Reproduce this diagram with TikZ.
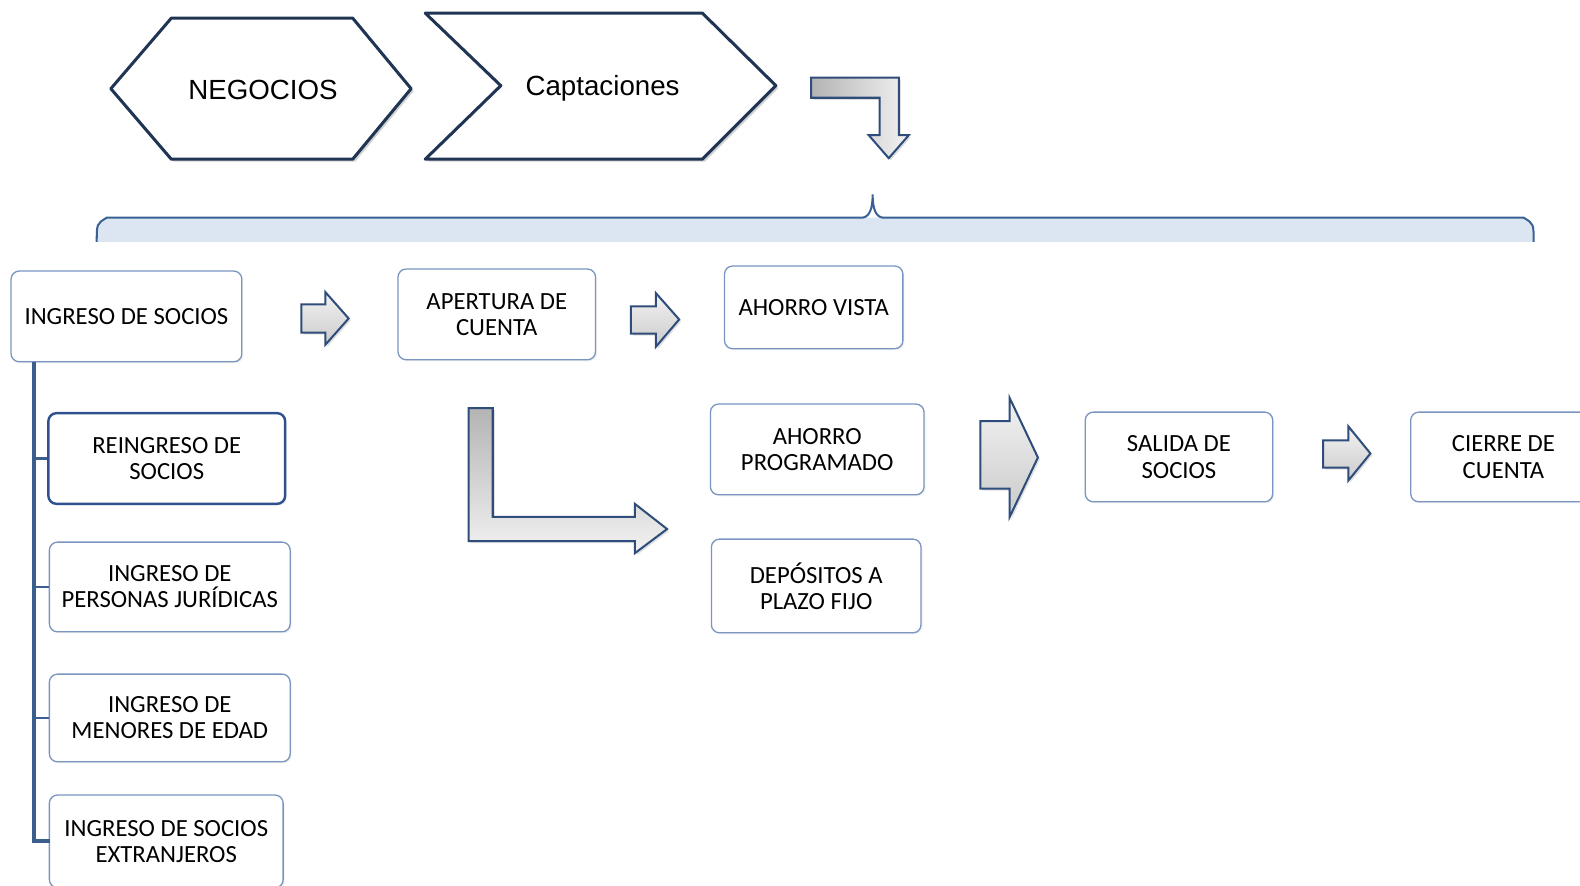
\documentclass[tikz,border=0pt]{standalone}
\usepackage{fontspec}
\setmainfont{Carlito}
\newfontfamily\arialfont{Liberation Sans}
\usetikzlibrary{shadows}

\definecolor{boxline}{HTML}{7A96C0}
\definecolor{boxdark}{HTML}{2F528F}
\definecolor{navy}{HTML}{1F3553}
\definecolor{arrowline}{HTML}{2E4D7B}
\definecolor{treeline}{HTML}{3A5F8E}
\definecolor{bracefill}{HTML}{DCE6F2}
\definecolor{braceline}{HTML}{3A6193}
\definecolor{shadeA}{HTML}{B4B4B4}
\definecolor{shadeB}{HTML}{F2F2F2}

\tikzset{
  boxnode/.style={draw=boxline, line width=1.3pt, rounded corners=8pt, fill=white,
    align=center, inner sep=0pt, text=black,
    font=\fontsize{24.5}{26}\selectfont,
    drop shadow={shadow xshift=1.5pt, shadow yshift=-1.5pt, opacity=0.12}},
  boxstrong/.style={boxnode, draw=boxdark, line width=2.4pt},
  hexshape/.style={draw=navy, line width=3pt, fill=white, line join=round,
    drop shadow={shadow xshift=2.5pt, shadow yshift=-2.5pt, opacity=0.35}},
  hextext/.style={font=\arialfont\fontsize{27.5}{30}\selectfont, inner sep=0pt},
  blockarrow/.style={draw=arrowline, line width=2pt, line join=miter,
    top color=shadeB, bottom color=shadeA!70,
    drop shadow={shadow xshift=2pt, shadow yshift=-2pt, opacity=0.25}},
  trunk/.style={draw=treeline, line width=4pt},
  branch/.style={draw=treeline, line width=2.5pt},
}

\begin{document}
\begin{tikzpicture}[x=1pt, y=-1pt]
\useasboundingbox (0,0) rectangle (1568,879);
\clip (0,0) rectangle (1568,879);

% process chevrons
\path[hexshape] (110,88) -- (170,18) -- (350,18) -- (408,88) -- (350,158) -- (170,158) -- cycle;
\node[hextext] (negocios) at (261,89) {NEGOCIOS};
\path[hexshape] (422,13) -- (697,13) -- (770,85) -- (697,158) -- (422,158) -- (497,85) -- cycle;
\node[hextext] (captaciones) at (598,88) {Captaciones};

% bent arrow down to the brace
\path[blockarrow, left color=shadeA, right color=shadeB]
  (805,77) -- (892,77) -- (892,134) -- (902,134) -- (882,157) -- (862,134)
  -- (873,134) -- (873,97) -- (805,97) -- cycle;

% brace
\fill[bracefill] (96,240) .. controls (96,222) .. (106,216) -- (1512,216)
  .. controls (1522,222) .. (1522,240) -- cycle;
\draw[braceline, line width=2pt] (96,240) .. controls (96,222) .. (106,216) -- (856,216)
  .. controls (863,215) and (866,207) .. (866,193)
  .. controls (866,207) and (869,215) .. (876,216) -- (1512,216)
  .. controls (1522,222) .. (1522,240);

% boxes
\node[boxnode, minimum width=229pt, minimum height=90pt] (ingreso) at (125.5,314) {INGRESO DE SOCIOS};
\node[boxnode, minimum width=196pt, minimum height=90pt] (apertura) at (493,312) {APERTURA DE\\CUENTA};
\node[boxnode, minimum width=177pt, minimum height=82pt] (vista) at (807.5,305) {AHORRO VISTA};
\node[boxstrong, minimum width=235pt, minimum height=90pt] (reingreso) at (165.5,455) {REINGRESO DE\\SOCIOS};
\node[boxnode, minimum width=239pt, minimum height=89pt] (juridicas) at (168.5,582.5) {INGRESO DE\\PERSONAS JURÍDICAS};
\node[boxnode, minimum width=239pt, minimum height=87pt] (menores) at (168.5,712.5) {INGRESO DE\\MENORES DE EDAD};
\node[boxnode, minimum width=232pt, minimum height=92pt] (extranjeros) at (165,835) {INGRESO DE SOCIOS\\EXTRANJEROS};
\node[boxnode, minimum width=212pt, minimum height=90pt] (programado) at (811,446) {AHORRO\\PROGRAMADO};
\node[boxnode, minimum width=208pt, minimum height=93pt] (plazo) at (810,581.5) {DEPÓSITOS A\\PLAZO FIJO};
\node[boxnode, minimum width=186pt, minimum height=89pt] (salida) at (1170,453.5) {SALIDA DE\\SOCIOS};
\node[boxnode, minimum width=184pt, minimum height=89pt] (cierre) at (1492,453.5) {CIERRE DE\\CUENTA};

% tree below INGRESO DE SOCIOS
\coordinate (root) at ([xshift=23pt]ingreso.south west);
\draw[trunk] (root) |- ([xshift=1pt]extranjeros.west);
\draw[branch] (root |- reingreso.west) -- (reingreso.west);
\draw[branch] (root |- juridicas.west) -- (juridicas.west);
\draw[branch] (root |- menores.west) -- (menores.west);

% block arrows
\path[blockarrow] (299,302) -- (323,302) -- (323,290) -- (346,316) -- (323,342) -- (323,330) -- (299,330) -- cycle;
\path[blockarrow] (626,304) -- (651,304) -- (651,291) -- (674,317) -- (651,344) -- (651,331) -- (626,331) -- cycle;
\path[blockarrow] (973,418) -- (1002,418) -- (1002,395) -- (1030,454) -- (1002,513) -- (1002,485) -- (973,485) -- cycle;
\path[blockarrow] (1313,437) -- (1338,437) -- (1338,423) -- (1360,450) -- (1338,477) -- (1338,464) -- (1313,464) -- cycle;

% L-shaped arrow
\path[blockarrow, top color=shadeA, bottom color=shadeB]
  (465,405) -- (489,405) -- (489,513) -- (630,513) -- (630,500) -- (662,525)
  -- (630,549) -- (630,537) -- (465,537) -- cycle;
\end{tikzpicture}
\end{document}
